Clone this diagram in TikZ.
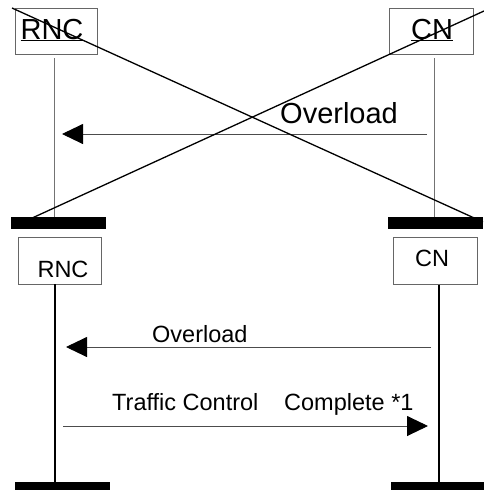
\documentclass[tikz,border=0pt]{standalone}
\usepackage{fontspec}
\setmainfont{Liberation Sans}
\usetikzlibrary{arrows.meta}
\begin{document}
\begin{tikzpicture}[x=1pt,y=-1pt,
  box/.style={draw=black!60,line width=0.8pt,inner sep=0pt},
  bar/.style={fill=black,draw=none,minimum width=95pt,minimum height=12pt,inner sep=0pt},
  toplife/.style={draw=black!55,line width=0.9pt},
  botlife/.style={draw=black,line width=1.3pt},
  msg/.style={draw=black!70,line width=0.9pt},
  tip/.style={-{Triangle[length=21pt,width=20pt,color=black,fill=black]}},
  bigtxt/.style={font=\fontsize{29}{31}\selectfont,inner sep=0pt,anchor=base},
  smalltxt/.style={font=\fontsize{23.5}{25}\selectfont,inner sep=0pt,anchor=base},
  cross/.style={draw=black,line width=1.3pt}]
\useasboundingbox (0,0) rectangle (484,490);
% ---------- top (crossed out) ----------
\node[box,minimum width=82pt,minimum height=46pt] (rncA) at (56,31) {};
\node[box,minimum width=84pt,minimum height=46pt] (cnA) at (431,31) {};
\node[bigtxt] (rncAt) at (52,39) {\underline{RNC}};
\node[bigtxt] (cnAt) at (432,39) {\underline{CN}};
\node[bar] (barA1) at (58.5,223) {};
\node[bar] (barA2) at (435.5,223) {};
\coordinate (lA1) at (54,58);
\coordinate (lA2) at (434,58);
\draw[toplife] (lA1) -- (lA1 |- barA1.north);
\draw[toplife] (lA2) -- (lA2 |- barA2.north);
\coordinate (mA1) at (427,134);
\coordinate (mA1e) at (62,134);
\draw[msg,tip] (mA1) -- (mA1e);
\node[bigtxt,anchor=base west] (ovA) at (280,123) {Overload};
\coordinate (c1s) at (12,8);
\coordinate (c1e) at (483,222);
\coordinate (c2s) at (484,11);
\coordinate (c2e) at (30,219);
\draw[cross] (c1s) -- (c1e);
\draw[cross] (c2s) -- (c2e);
% ---------- bottom ----------
\node[box,minimum width=83pt,minimum height=47pt] (rncB) at (59.5,260.5) {};
\node[box,minimum width=84pt,minimum height=47pt] (cnB) at (435,261) {};
\node[smalltxt] (rncBt) at (63,277) {RNC};
\node[smalltxt] (cnBt) at (432,266) {CN};
\node[bar] (barB1) at (62.5,488) {};
\node[bar] (barB2) at (438.5,488) {};
\draw[botlife] (rncB.south -| 55,0) -- (barB1.north -| 55,0);
\draw[botlife] (cnB.south -| 439,0) -- (barB2.north -| 439,0);
\coordinate (mB1) at (431,347);
\coordinate (mB1e) at (66,347);
\draw[msg,tip] (mB1) -- (mB1e);
\node[smalltxt,anchor=base west] (ovB) at (152,342) {Overload};
\coordinate (mB2) at (63,426);
\coordinate (mB2e) at (428,426);
\draw[msg,tip] (mB2) -- (mB2e);
\node[smalltxt,anchor=base west] (tcB) at (112,410) {Traffic Control};
\node[smalltxt,anchor=base west] (cpB) at (284,410) {Complete *1};
\end{tikzpicture}
\end{document}
